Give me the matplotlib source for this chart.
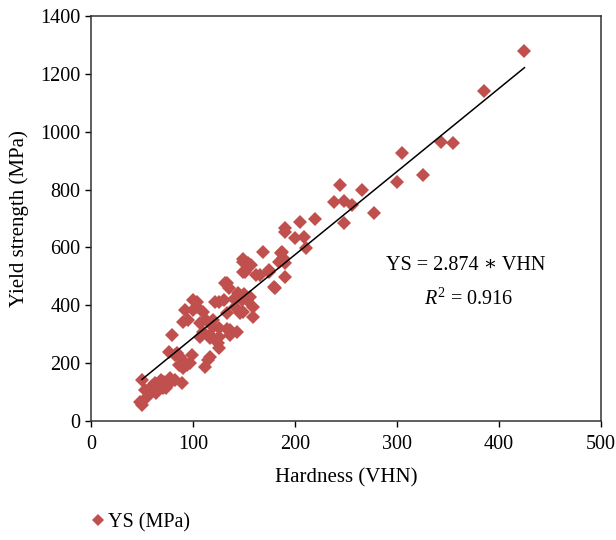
#!/usr/bin/env python3
"""Yield strength vs Vickers hardness scatter with through-origin fit."""

import matplotlib
matplotlib.use("Agg")
import matplotlib.pyplot as plt
import numpy as np

hardness = [
    50, 53, 48, 50, 55, 58, 63, 64, 69, 71, 74, 77, 79, 89, 60, 66, 72, 82,
    76, 82, 84, 79, 99, 92, 87, 94, 90, 86, 97, 87, 115, 112, 117,
    92, 95, 100, 104, 104, 100, 107, 113, 110, 90, 110, 107, 117, 125, 117,
    126, 126, 120, 120, 122, 126, 130, 126, 133, 136, 136, 143, 133, 141,
    146, 149, 159, 159, 144, 148, 143, 153, 156, 131, 133, 135, 140, 150,
    149, 151, 154, 149, 157, 149, 162, 166, 175, 175, 169, 184, 186, 187,
    188, 190, 190, 180, 179, 190, 190, 205, 200, 209, 211, 220, 238, 244,
    248, 256, 248, 277, 266, 300, 305, 326, 343, 355, 385, 425,
]
yield_strength = [
    142, 107, 67, 55, 84, 101, 130, 96, 142, 113, 113, 148, 137, 130, 120, 110, 135, 140,
    240, 228, 234, 297, 228, 200, 193, 193, 182, 193, 199, 222, 211, 188, 222,
    384, 349, 418, 395, 412, 384, 338, 349, 378, 343, 309, 291, 297, 268, 286,
    291, 251, 326, 349, 412, 320, 418, 412, 317, 297, 315, 309, 372, 395,
    372, 378, 360, 395, 441, 418, 430, 418, 430, 476, 476, 460, 420, 440,
    516, 516, 545, 551, 539, 560, 505, 505, 516, 522, 585, 551, 580, 585,
    562, 545, 499, 459, 464, 666, 655, 689, 631, 635, 597, 697, 758, 816,
    760, 745, 685, 720, 800, 825, 925, 850, 965, 960, 1140, 1280,
]
slope = 2.874
r_squared = 0.916
fit_range = [50, 425]

plt.rcParams["font.family"] = ["Liberation Serif", "DejaVu Serif"]
plt.rcParams["mathtext.fontset"] = "custom"
plt.rcParams["mathtext.rm"] = "Liberation Serif"
plt.rcParams["mathtext.it"] = "Liberation Serif:italic"

fig = plt.figure(figsize=(6.16, 5.40), dpi=100)
ax = fig.add_axes([0.1477, 0.2204, 0.8279, 0.75])

ax.plot(hardness, yield_strength, linestyle="none", marker="D", markersize=7.5,
        color="#C0504D", markeredgewidth=0, label="YS (MPa)", zorder=2)
fit_x = np.array(fit_range)
ax.plot(fit_x, slope * fit_x, color="black", linewidth=1.1, zorder=3)

ax.set_xlim(0, 500)
ax.set_ylim(0, 1400)
ax.set_xticks(range(0, 501, 100))
ax.set_yticks(range(0, 1401, 200))
ax.tick_params(labelsize=14.5, direction="out", length=4, width=1)
ax.tick_params(axis="x", pad=6)
for side in ax.spines.values():
    side.set_linewidth(1.1)
    side.set_color("#333333")

ax.set_xlabel("Hardness (VHN)", fontsize=15, labelpad=10)
ax.set_ylabel("Yield strength (MPa)", fontsize=15, labelpad=8)

ax.text(367, 536, "YS = 2.874 \u2217 VHN", ha="center", va="center", fontsize=14.5)
ax.text(370, 420, f"$R^2$ = {r_squared:.3f}", ha="center", va="center", fontsize=14.5)

fig.legend(loc="center left", bbox_to_anchor=(0.143, 0.032), frameon=False,
           fontsize=14.5, handletextpad=0.0, handlelength=1.0, markerscale=0.8,
           borderaxespad=0, borderpad=0)

fig.savefig("out.png", dpi=100)
